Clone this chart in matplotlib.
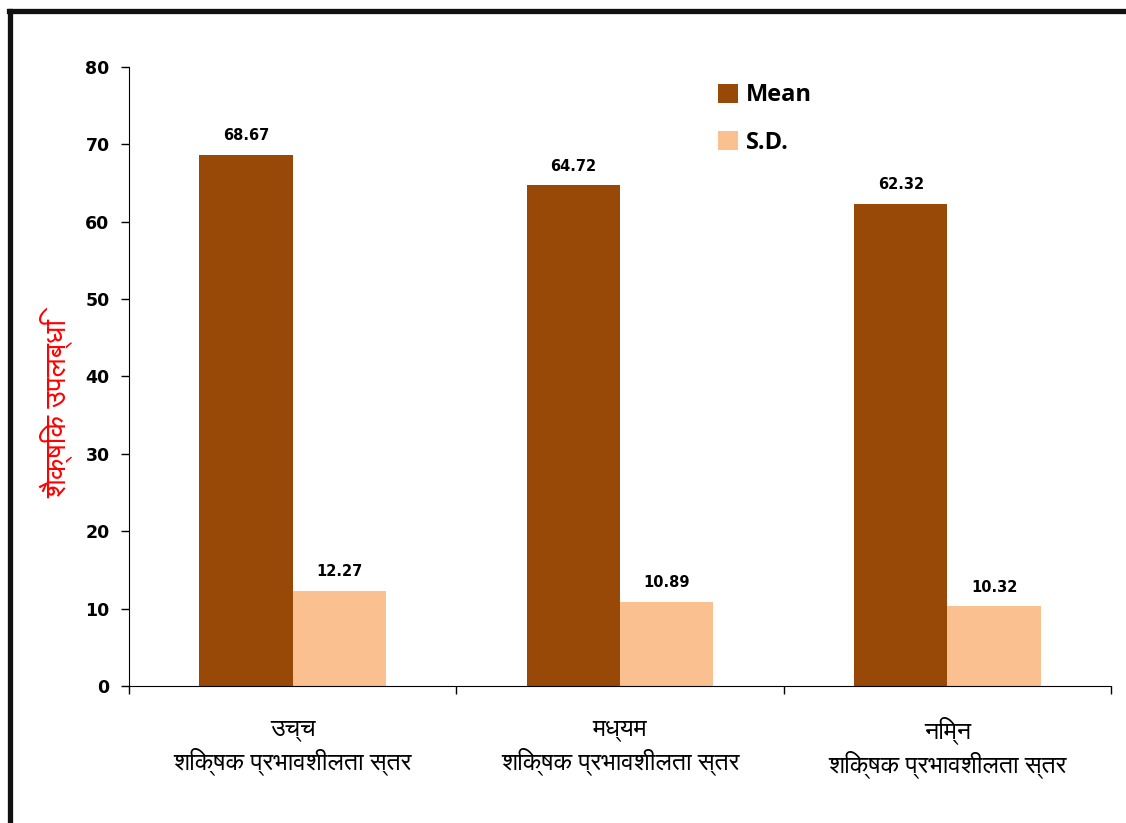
import numpy as np
import matplotlib
matplotlib.use('Agg')
import matplotlib.pyplot as plt
from matplotlib.lines import Line2D
from matplotlib import font_manager

# data
levels = ['उच्च\nशिक्षक प्रभावशीलता स्तर',
          'मध्यम\nशिक्षक प्रभावशीलता स्तर',
          'निम्न\nशिक्षक प्रभावशीलता स्तर']
mean_vals = [68.67, 64.72, 62.32]
sd_vals = [12.27, 10.89, 10.32]
series_names = ['Mean', 'S.D.']
y_label = 'शैक्षिक उपलब्धि'

# look for any installed font that can draw devanagari
hindi_fonts = []
for f in font_manager.fontManager.ttflist:
    n = f.name.lower()
    if 'devanagari' in n or 'lohit' in n or 'mangal' in n or 'freesans' in n or 'gargi' in n or 'kalimati' in n:
        if f.name not in hindi_fonts:
            hindi_fonts.append(f.name)
hindi_family = hindi_fonts + ['DejaVu Sans']

fig = plt.figure(figsize=(11.26, 8.23), dpi=100)
ax = fig.add_axes([0.1146, 0.1665, 0.8721, 0.7521])

x = np.arange(len(levels))
w = 0.285
b1 = ax.bar(x - w/2, mean_vals, w, color='#984807', label=series_names[0])
b2 = ax.bar(x + w/2, sd_vals, w, color='#FAC090', label=series_names[1])

for bars, vals in [(b1, mean_vals), (b2, sd_vals)]:
    for r, v in zip(bars, vals):
        ax.text(r.get_x() + r.get_width()/2, v + 1.5, '%.2f' % v,
                ha='center', va='bottom', fontsize=10.5, fontweight='bold')

ax.set_xlim(-0.5, 2.5)
ax.set_ylim(0, 80)
ax.set_yticks(range(0, 81, 10))
ax.set_yticklabels([str(t) for t in range(0, 81, 10)], fontsize=12.5, fontweight='bold')
ax.tick_params(axis='y', length=6, width=1, pad=8)
ax.set_xticks(x)
ax.set_xticklabels(levels, family=hindi_family, fontsize=18, linespacing=1.3)
ax.tick_params(axis='x', which='major', length=0, pad=22)
ax.set_xticks([-0.5, 0.5, 1.5, 2.5], minor=True)
ax.tick_params(axis='x', which='minor', length=6, width=1)
for s in ['top', 'right']:
    ax.spines[s].set_visible(False)

ax.set_ylabel(y_label, family=hindi_family, color='red', fontsize=21)
ax.yaxis.set_label_coords(-0.057, 0.449)

leg = ax.legend(loc='upper left', bbox_to_anchor=(0.578, 1.008), frameon=False,
                prop={'weight': 'bold', 'size': 17, 'family': 'Open Sans'},
                handlelength=0.85, handleheight=0.85, labelspacing=1.0, handletextpad=0.35)

# outer frame (top + left)
fig.add_artist(Line2D([0.008, 1.0], [1 - 11/823, 1 - 11/823], transform=fig.transFigure,
                      color='#111111', lw=3.8))
fig.add_artist(Line2D([10/1126, 10/1126], [0, 1 - 11/823], transform=fig.transFigure,
                      color='#111111', lw=3.8))

fig.savefig('out.png', dpi=100)
